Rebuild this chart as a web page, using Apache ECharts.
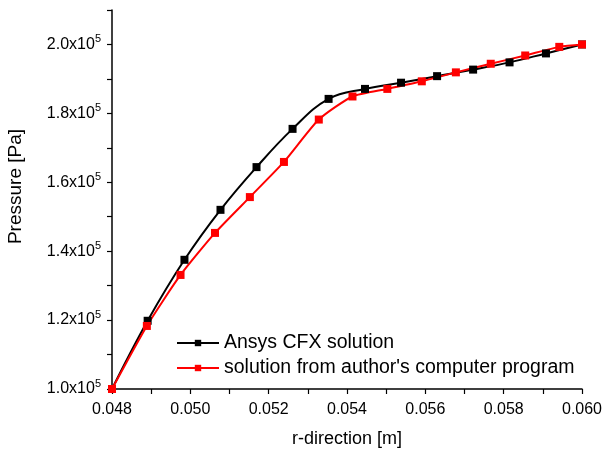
<!DOCTYPE html>
<html>
<head>
    <meta charset="UTF-8">
    <title>Pressure along r-direction</title>
</head>
<body style="margin: 0;overflow: hidden;background: #fff;">
<div id="chart" style="width: 604px;height: 450px"></div>

<script type="text/javascript" src="https://cdn.jsdelivr.net/npm/echarts@6/dist/echarts.min.js"></script>
<script type="text/javascript">
    var cfxR = [0.0480, 0.04891, 0.04985, 0.05077, 0.05169, 0.05261, 0.05353, 0.05446, 0.05538, 0.05630, 0.05722, 0.05815, 0.05908, 0.0600];
    var cfxP = [100000, 119800, 137500, 152000, 164400, 175500, 184200, 187100, 188900, 190800, 192700, 194800, 197400, 200000];
    var progR = [0.0480, 0.04889, 0.04975, 0.05063, 0.05152, 0.05239, 0.05328, 0.05414, 0.05503, 0.05591, 0.05678, 0.05767, 0.05855, 0.05942, 0.0600];
    var progP = [100000, 118300, 133100, 145300, 155700, 165900, 178200, 184900, 187100, 189300, 191900, 194400, 196800, 199300, 200000];
    var legendNames = ['Ansys CFX solution', "solution from author's computer program"];

    function pairs(xs, ys) {
        var out = [];
        for (var i = 0; i < xs.length; i++) {
            out.push([xs[i], ys[i]]);
        }
        return out;
    }

    var font = 'Liberation Sans';
    var chart = echarts.init(document.getElementById('chart'));
    var option = {
        backgroundColor: '#fff',
        animation: false,
        textStyle: {fontFamily: font, color: '#000'},
        grid: {left: 112, right: 22, top: 10, bottom: 61, containLabel: false, outerBoundsMode: 'none'},
        legend: {
            orient: 'vertical',
            left: 176,
            top: 333,
            padding: 0,
            itemWidth: 42,
            itemHeight: 8,
            itemGap: 5,
            textStyle: {fontFamily: font, fontSize: 19.5, color: '#000'},
            data: legendNames
        },
        xAxis: {
            type: 'value',
            min: 0.048,
            max: 0.060,
            interval: 0.001,
            name: 'r-direction [m]',
            nameLocation: 'middle',
            nameGap: 41,
            nameTextStyle: {fontFamily: font, fontSize: 18, color: '#000'},
            axisLine: {lineStyle: {color: '#000', width: 1.5}},
            axisTick: {length: 5, lineStyle: {color: '#000', width: 1.2}},
            splitLine: {show: false},
            axisLabel: {
                fontFamily: font,
                fontSize: 16,
                color: '#000',
                margin: 13,
                formatter: function (v) {
                    return Math.round(v * 1000) % 2 === 0 ? v.toFixed(3) : '';
                }
            }
        },
        yAxis: {
            type: 'value',
            min: 100000,
            max: 210000,
            interval: 10000,
            name: 'Pressure [Pa]',
            nameLocation: 'middle',
            nameGap: 87,
            nameTextStyle: {fontFamily: font, fontSize: 19, color: '#000', padding: [0, 0, 0, 26]},
            axisLine: {show: true, lineStyle: {color: '#000', width: 1.5}},
            axisTick: {show: true, length: 5, lineStyle: {color: '#000', width: 1.2}},
            splitLine: {show: false},
            axisLabel: {
                fontFamily: font,
                fontSize: 16,
                lineHeight: 22,
                color: '#000',
                margin: 11,
                formatter: function (v) {
                    if (Math.round(v / 10000) % 2 !== 0) return '';
                    return (v / 100000).toFixed(1) + 'x10{s|5}';
                },
                rich: {
                    s: {fontFamily: font, fontSize: 11, color: '#000', verticalAlign: 'top', lineHeight: 15}
                }
            }
        },
        series: [{
            name: legendNames[0],
            type: 'line',
            data: pairs(cfxR, cfxP),
            smooth: 0.4,
            symbol: 'rect',
            symbolSize: 8,
            itemStyle: {color: '#000'},
            lineStyle: {color: '#000', width: 2}
        }, {
            name: legendNames[1],
            type: 'line',
            data: pairs(progR, progP),
            smooth: 0.2,
            symbol: 'rect',
            symbolSize: 8,
            itemStyle: {color: '#ff0000'},
            lineStyle: {color: '#ff0000', width: 2}
        }]
    };
    chart.setOption(option);
</script>
</body>
</html>
